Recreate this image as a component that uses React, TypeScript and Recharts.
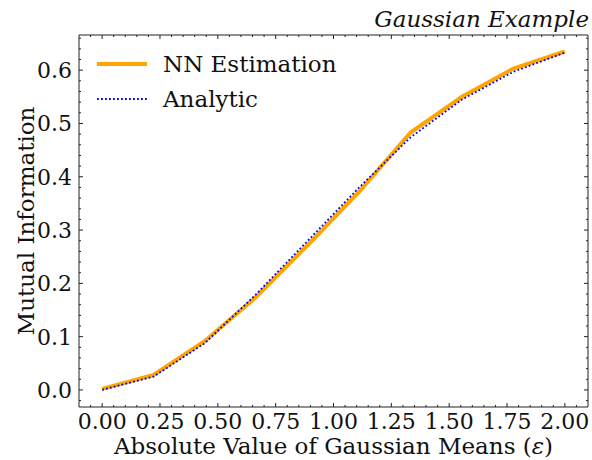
import React from 'react';
import { LineChart, Line, XAxis, YAxis, Legend } from 'recharts';

// epsilon = linspace(0, 2, 10)
const epsilon = [0, 0.2222, 0.4444, 0.6667, 0.8889, 1.1111, 1.3333, 1.5556, 1.7778, 2.0];
const nnEstimation = [0.002, 0.028, 0.092, 0.175, 0.272, 0.372, 0.483, 0.55, 0.603, 0.635];
const analytic = [0.0, 0.025, 0.088, 0.18, 0.28, 0.38, 0.474, 0.545, 0.597, 0.633];

const xMajorTicks = [0, 0.25, 0.5, 0.75, 1.0, 1.25, 1.5, 1.75, 2.0];
const yMajorTicks = [0, 0.1, 0.2, 0.3, 0.4, 0.5, 0.6];

const xDomain: [number, number] = [-0.1, 2.1];
const yDomain: [number, number] = [-0.032, 0.666];

const FONT = '"DejaVu Serif", serif';
const AXIS = '#222';
const TICK_FS = 22;
const LABEL_FS = 23;
const DOT_DASH = '1.8 2.2';

const data = epsilon.map((e, i) => ({ eps: e, nn: nnEstimation[i], analytic: analytic[i] }));

// majors plus the minor ticks between them (5 subdivisions, like matplotlib)
function withMinor(majors: number[], lo: number, hi: number) {
  const step = (majors[1] - majors[0]) / 5;
  const out: number[] = [];
  for (let i = Math.ceil(lo / step + 1e-9); i * step < hi - 1e-9; i++) {
    out.push(+(i * step).toFixed(4));
  }
  return out;
}
const isMajor = (v: number, majors: number[]) => majors.some((m) => Math.abs(m - v) < 1e-6);

const xTicks = withMinor(xMajorTicks, xDomain[0], xDomain[1]);
const yTicks = withMinor(yMajorTicks, yDomain[0], yDomain[1]);

function XTick(props: any) {
  const { x, y, payload, side } = props;
  const major = isMajor(payload.value, xMajorTicks);
  const len = major ? 4 : 2;
  const dir = side === 'bottom' ? -1 : 1;
  return (
    <g>
      <line x1={x} x2={x} y1={y} y2={y + dir * len} stroke={AXIS} strokeWidth={1} />
      {major && side === 'bottom' && (
        <text x={x} y={y + 22} textAnchor="middle" fontFamily={FONT} fontSize={TICK_FS} fill="#111">
          {payload.value.toFixed(2)}
        </text>
      )}
    </g>
  );
}

function YTick(props: any) {
  const { x, y, payload, side } = props;
  const major = isMajor(payload.value, yMajorTicks);
  const len = major ? 4 : 2;
  const dir = side === 'left' ? 1 : -1;
  return (
    <g>
      <line x1={x} x2={x + dir * len} y1={y} y2={y} stroke={AXIS} strokeWidth={1} />
      {major && side === 'left' && (
        <text x={x - 7} y={y + 8} textAnchor="end" fontFamily={FONT} fontSize={TICK_FS} fill="#111">
          {payload.value.toFixed(1)}
        </text>
      )}
    </g>
  );
}

function XTitle(props: any) {
  const { viewBox } = props;
  return (
    <text x={viewBox.x + viewBox.width / 2} y={454} textAnchor="middle" fontFamily={FONT} fontSize={LABEL_FS} fill="#111">
      Absolute Value of Gaussian Means (<tspan fontStyle="italic">ε</tspan>)
    </text>
  );
}

function YTitle(props: any) {
  const { viewBox } = props;
  const cy = viewBox.y + viewBox.height / 2;
  return (
    <text x={34} y={cy} transform={`rotate(-90, 34, ${cy})`} textAnchor="middle" fontFamily={FONT} fontSize={LABEL_FS} fill="#111">
      Mutual Information
    </text>
  );
}

const legendRows = [
  { name: 'NN Estimation', color: '#FFA500', width: 4, dash: undefined as string | undefined },
  { name: 'Analytic', color: '#0000FF', width: 1.8, dash: DOT_DASH },
];

function LegendBox() {
  return (
    <div style={{ fontFamily: FONT, fontSize: LABEL_FS, color: '#111' }}>
      {legendRows.map((r) => (
        <div key={r.name} style={{ display: 'flex', alignItems: 'center', height: 35 }}>
          <svg width={50} height={10} style={{ display: 'block' }}>
            <line x1={0} x2={50} y1={5} y2={5} stroke={r.color} strokeWidth={r.width} strokeDasharray={r.dash} />
          </svg>
          <span style={{ marginLeft: 16, whiteSpace: 'nowrap' }}>{r.name}</span>
        </div>
      ))}
    </div>
  );
}

export default function App() {
  return (
    <div style={{ position: 'absolute', left: 0, top: 0, width: 592, height: 460, background: '#fff' }}>
      <div
        style={{
          position: 'absolute',
          right: 3,
          top: 8,
          fontFamily: FONT,
          fontSize: LABEL_FS,
          lineHeight: `${LABEL_FS}px`,
          fontStyle: 'italic',
          color: '#111',
          whiteSpace: 'nowrap',
        }}
      >
        Gaussian Example
      </div>
      <LineChart width={592} height={460} data={data} margin={{ top: 34, right: 3, left: 0, bottom: 0 }}>
        <XAxis
          dataKey="eps"
          type="number"
          domain={xDomain}
          ticks={xTicks}
          interval={0}
          height={53}
          tickSize={0}
          tickMargin={0}
          tickLine={false}
          axisLine={{ stroke: AXIS, strokeWidth: 1 }}
          tick={(p: any) => <XTick {...p} side="bottom" />}
          label={<XTitle />}
        />
        <XAxis
          xAxisId="top"
          orientation="top"
          dataKey="eps"
          type="number"
          domain={xDomain}
          ticks={xTicks}
          interval={0}
          height={1}
          tickSize={0}
          tickMargin={0}
          tickLine={false}
          axisLine={{ stroke: AXIS, strokeWidth: 1 }}
          tick={(p: any) => <XTick {...p} side="top" />}
        />
        <YAxis
          type="number"
          domain={yDomain}
          ticks={yTicks}
          interval={0}
          width={79}
          tickSize={0}
          tickMargin={0}
          tickLine={false}
          axisLine={{ stroke: AXIS, strokeWidth: 1 }}
          tick={(p: any) => <YTick {...p} side="left" />}
          label={<YTitle />}
        />
        <YAxis
          yAxisId="right"
          orientation="right"
          type="number"
          domain={yDomain}
          ticks={yTicks}
          interval={0}
          width={1}
          tickSize={0}
          tickMargin={0}
          tickLine={false}
          axisLine={{ stroke: AXIS, strokeWidth: 1 }}
          tick={(p: any) => <YTick {...p} side="right" />}
        />
        <Legend
          layout="vertical"
          align="center"
          verticalAlign="middle"
          wrapperStyle={{ left: 97, top: 46, width: 'auto' }}
          content={<LegendBox />}
        />
        <Line
          dataKey="nn"
          name="NN Estimation"
          type="linear"
          stroke="#FFA500"
          strokeWidth={4}
          dot={false}
          isAnimationActive={false}
        />
        {/* same domains as the main axes; tying it to the mirrored axes keeps them drawn */}
        <Line
          dataKey="analytic"
          name="Analytic"
          xAxisId="top"
          yAxisId="right"
          type="linear"
          stroke="#0000FF"
          strokeWidth={1.8}
          strokeDasharray={DOT_DASH}
          dot={false}
          isAnimationActive={false}
        />
      </LineChart>
    </div>
  );
}
